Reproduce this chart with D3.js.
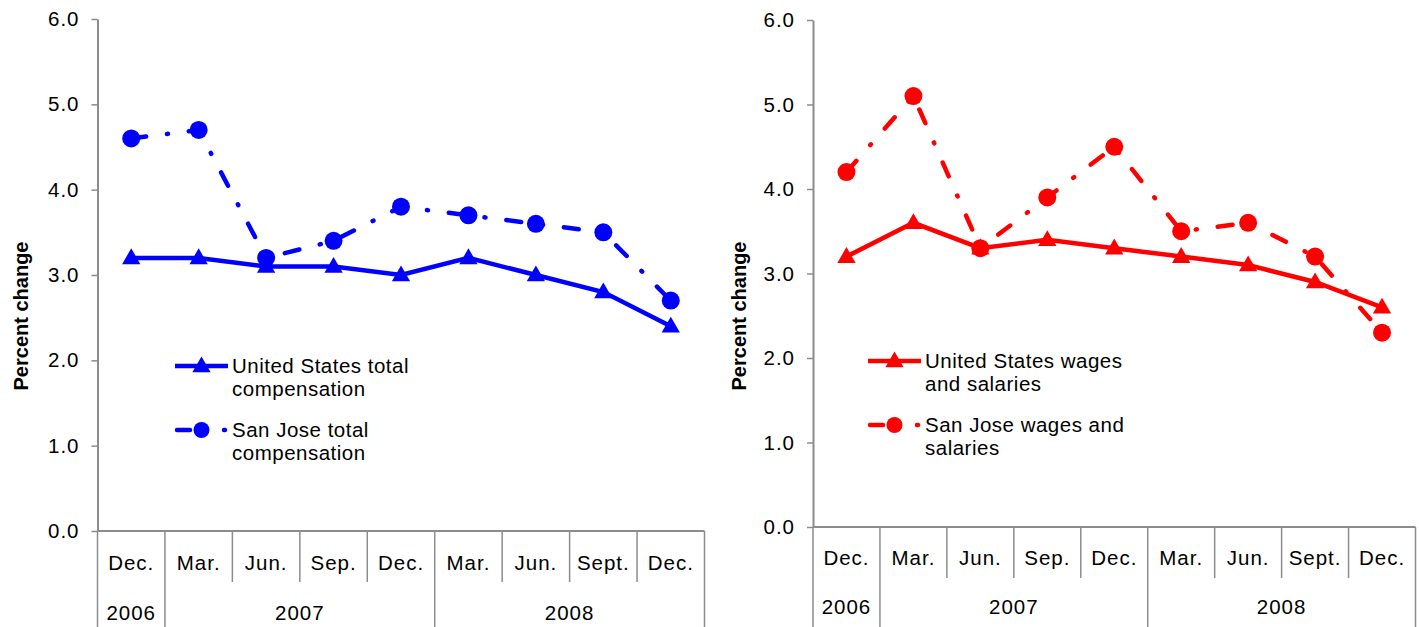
<!DOCTYPE html>
<html>
<head>
<meta charset="utf-8">
<script src="https://cdn.jsdelivr.net/npm/d3@7"></script>
<style>
  body { margin: 0; background: #fff; }
  svg text { font-family: "Liberation Sans", Arial, sans-serif; fill: #000; letter-spacing: 1px; }
  svg text.legend { letter-spacing: 0.5px; }
</style>
</head>
<body>
<svg id="chart" width="1419" height="627"></svg>
<script>
// Quarter labels and year groups (shared by both panels)
const months = ["Dec.", "Mar.", "Jun.", "Sep.", "Dec.", "Mar.", "Jun.", "Sept.", "Dec."];
const years = [
    { label: "2006", span: 1 },
    { label: "2007", span: 4 },
    { label: "2008", span: 4 }
];
const yTicks = [0, 1, 2, 3, 4, 5, 6];

// Left panel: total compensation
const usTotalComp = [3.2, 3.2, 3.1, 3.1, 3.0, 3.2, 3.0, 2.8, 2.4];
const sjTotalComp = [4.6, 4.7, 3.2, 3.4, 3.8, 3.7, 3.6, 3.5, 2.7];

// Right panel: wages and salaries
const usWages = [3.2, 3.6, 3.3, 3.4, 3.3, 3.2, 3.1, 2.9, 2.6];
const sjWages = [4.2, 5.1, 3.3, 3.9, 4.5, 3.5, 3.6, 3.2, 2.3];

const svg = d3.select('#chart');
const axisColor = '#8c8c8c';
const dashPattern = '15,21,1,21';
const fontSize = '20.5px';

function drawPanel(cfg) {
    const g = svg.append('g');
    const x = d3.scaleBand()
        .domain(months.map((m, i) => i))
        .range([cfg.left, cfg.right]);
    const y = d3.scaleLinear()
        .domain([0, 6])
        .range([cfg.bottom, cfg.top]);

    // Y axis
    const yAxis = g.append('g')
        .attr('transform', `translate(${cfg.left},0)`)
        .call(d3.axisLeft(y)
            .tickValues(yTicks)
            .tickFormat(d3.format('.1f'))
            .tickSize(6)
            .tickPadding(12)
            .tickSizeOuter(0));
    yAxis.attr('font-size', null).attr('font-family', null);
    yAxis.select('.domain').attr('stroke', axisColor).attr('stroke-width', 2);
    yAxis.selectAll('.tick line').attr('stroke', axisColor).attr('stroke-width', 1.5);
    yAxis.selectAll('.tick text')
        .style('font-size', fontSize)
        .attr('fill', '#000');

    // Y axis title
    g.append('text')
        .attr('transform', `translate(${cfg.titleX},${cfg.titleY}) rotate(-90)`)
        .attr('text-anchor', 'middle')
        .style('font-size', '20px')
        .style('letter-spacing', '0px')
        .attr('font-weight', 'bold')
        .text('Percent change');

    // X axis baseline
    g.append('line')
        .attr('x1', cfg.left).attr('x2', cfg.right)
        .attr('y1', cfg.bottom).attr('y2', cfg.bottom)
        .attr('stroke', axisColor).attr('stroke-width', 2);

    // Month separators
    const yearStarts = [];
    let acc = 0;
    years.forEach(yr => { yearStarts.push(acc); acc += yr.span; });
    yearStarts.push(acc);

    d3.range(months.length + 1).forEach(i => {
        const xp = i < months.length ? x(i) : cfg.right;
        const isYear = yearStarts.includes(i);
        g.append('line')
            .attr('x1', xp).attr('x2', xp)
            .attr('y1', cfg.bottom)
            .attr('y2', isYear ? 627 : cfg.monthSepEnd)
            .attr('stroke', axisColor)
            .attr('stroke-width', 1.5);
    });

    // Month labels
    g.selectAll('.month')
        .data(months)
        .join('text')
        .attr('x', (d, i) => x(i) + x.bandwidth() / 2)
        .attr('y', cfg.monthY)
        .attr('text-anchor', 'middle')
        .style('font-size', fontSize)
        .text(d => d);

    // Year labels
    g.selectAll('.year')
        .data(years)
        .join('text')
        .attr('x', (d, i) => {
            const s = yearStarts[i], e = yearStarts[i + 1];
            const x1 = x(s);
            const x2 = e < months.length ? x(e) : cfg.right;
            return (x1 + x2) / 2;
        })
        .attr('y', cfg.yearY)
        .attr('text-anchor', 'middle')
        .style('font-size', fontSize)
        .text(d => d.label);

    const line = d3.line()
        .x((d, i) => x(i) + x.bandwidth() / 2)
        .y(d => y(d));

    // San Jose dash-dot line with circles
    g.append('path')
        .datum(cfg.sj)
        .attr('d', line)
        .attr('fill', 'none')
        .attr('stroke', cfg.color)
        .attr('stroke-width', 4.5)
        .attr('stroke-linecap', 'round')
        .attr('stroke-dasharray', dashPattern);

    g.selectAll('.sj-dot')
        .data(cfg.sj)
        .join('circle')
        .attr('cx', (d, i) => x(i) + x.bandwidth() / 2)
        .attr('cy', d => y(d))
        .attr('r', 9)
        .attr('fill', cfg.color);

    // US solid line with triangles
    g.append('path')
        .datum(cfg.us)
        .attr('d', line)
        .attr('fill', 'none')
        .attr('stroke', cfg.color)
        .attr('stroke-width', 4.5);

    const tri = d3.symbol(d3.symbolTriangle, 145);
    g.selectAll('.us-tri')
        .data(cfg.us)
        .join('path')
        .attr('d', tri)
        .attr('transform', (d, i) => `translate(${x(i) + x.bandwidth() / 2},${y(d) + 1})`)
        .attr('fill', cfg.color);

    // Legend
    const lg = g.append('g').attr('transform', `translate(${cfg.legX},${cfg.legY})`);
    lg.append('line')
        .attr('x1', 0).attr('x2', 53).attr('y1', 0).attr('y2', 0)
        .attr('stroke', cfg.color).attr('stroke-width', 4.5);
    lg.append('path').attr('d', tri).attr('transform', 'translate(26.5,1)').attr('fill', cfg.color);
    lg.selectAll('.l1')
        .data(cfg.usLabel)
        .join('text')
        .attr('class', 'legend')
        .attr('x', 57)
        .attr('y', (d, i) => 7 + i * 23)
        .style('font-size', fontSize)
        .text(d => d);

    const lg2 = g.append('g').attr('transform', `translate(${cfg.legX},${cfg.legY + 64})`);
    lg2.append('line')
        .attr('x1', 2).attr('x2', 53).attr('y1', 0).attr('y2', 0)
        .attr('stroke', cfg.color).attr('stroke-width', 4.5)
        .attr('stroke-linecap', 'round')
        .attr('stroke-dasharray', '13,34,1,20');
    lg2.append('circle').attr('cx', 26.5).attr('cy', 0).attr('r', 8).attr('fill', cfg.color);
    lg2.selectAll('.l2')
        .data(cfg.sjLabel)
        .join('text')
        .attr('class', 'legend')
        .attr('x', 57)
        .attr('y', (d, i) => 7 + i * 23)
        .style('font-size', fontSize)
        .text(d => d);
}

drawPanel({
    left: 97.5, right: 704.5, top: 19, bottom: 531,
    monthSepEnd: 582, monthY: 570, yearY: 620,
    titleX: 28, titleY: 316,
    color: '#0000ff',
    us: usTotalComp, sj: sjTotalComp,
    legX: 175, legY: 366,
    usLabel: ['United States total', 'compensation'],
    sjLabel: ['San Jose total', 'compensation']
});

drawPanel({
    left: 813, right: 1415.5, top: 20, bottom: 527,
    monthSepEnd: 578, monthY: 565, yearY: 614,
    titleX: 746, titleY: 316,
    color: '#ff0000',
    us: usWages, sj: sjWages,
    legX: 868, legY: 361,
    usLabel: ['United States wages', 'and salaries'],
    sjLabel: ['San Jose wages and', 'salaries']
});
</script>
</body>
</html>
